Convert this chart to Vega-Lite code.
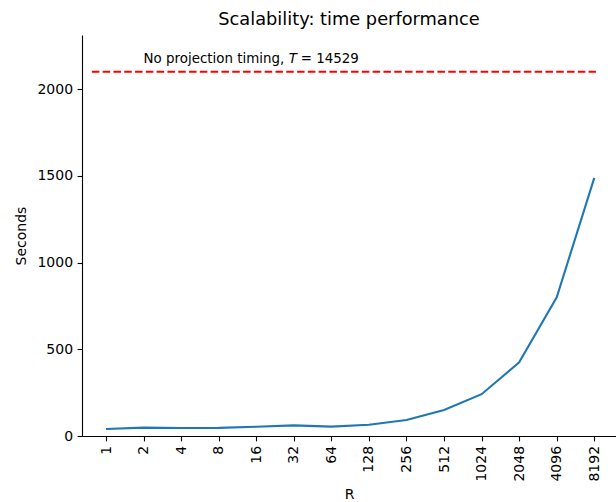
{
  "$schema": "https://vega.github.io/schema/vega-lite/v6.json",
  "autosize": "none",
  "width": 534,
  "height": 401,
  "padding": {"left": 82, "top": 35, "right": 0, "bottom": 66},
  "background": "white",
  "title": {
    "text": "Scalability: time performance",
    "fontSize": 17.8,
    "font": "DejaVu Sans",
    "fontWeight": "normal",
    "color": "black",
    "anchor": "middle",
    "baseline": "bottom",
    "offset": 5,
    "dy": 17
  },
  "config": {
    "view": {"stroke": null},
    "font": "DejaVu Sans",
    "axis": {
      "grid": false,
      "domainColor": "black",
      "domainWidth": 1.1,
      "tickColor": "black",
      "tickWidth": 1.1,
      "tickSize": 4.9,
      "labelFont": "DejaVu Sans",
      "labelFontSize": 14,
      "labelColor": "black",
      "labelPadding": 4.5,
      "titleFont": "DejaVu Sans",
      "titleFontSize": 14,
      "titleFontWeight": "normal",
      "titleColor": "black"
    }
  },
  "datasets": {
    "timing": [
      {"R": 1, "Seconds": 40},
      {"R": 2, "Seconds": 48},
      {"R": 4, "Seconds": 46},
      {"R": 8, "Seconds": 47},
      {"R": 16, "Seconds": 53},
      {"R": 32, "Seconds": 61},
      {"R": 64, "Seconds": 54},
      {"R": 128, "Seconds": 65},
      {"R": 256, "Seconds": 92},
      {"R": 512, "Seconds": 150},
      {"R": 1024, "Seconds": 241},
      {"R": 2048, "Seconds": 425},
      {"R": 4096, "Seconds": 800},
      {"R": 8192, "Seconds": 1488}
    ],
    "reference": [
      {"R_start": 0.77, "R_end": 8450, "Seconds": 2100, "label_R": 2, "label_Seconds": 2175}
    ]
  },
  "layer": [
    {
      "data": {"name": "timing"},
      "mark": {"type": "line", "color": "#1f77b4", "strokeWidth": 2.1},
      "encoding": {
        "x": {
          "field": "R",
          "type": "quantitative",
          "scale": {"type": "log", "base": 2, "domain": [0.642, 12230], "nice": false},
          "axis": {
            "values": [1, 2, 4, 8, 16, 32, 64, 128, 256, 512, 1024, 2048, 4096, 8192],
            "format": "d",
            "labelAngle": -90,
            "title": "R",
            "titlePadding": 6
          }
        },
        "y": {
          "field": "Seconds",
          "type": "quantitative",
          "scale": {"domain": [0, 2312], "nice": false},
          "axis": {
            "values": [0, 500, 1000, 1500, 2000],
            "format": "d",
            "title": "Seconds",
            "titlePadding": 8
          }
        }
      }
    },
    {
      "data": {"name": "reference"},
      "mark": {"type": "rule", "color": "red", "strokeWidth": 2.1, "strokeDash": [7.5, 3.3]},
      "encoding": {
        "x": {"field": "R_start", "type": "quantitative"},
        "x2": {"field": "R_end"},
        "y": {"field": "Seconds", "type": "quantitative"}
      }
    },
    {
      "data": {"name": "reference"},
      "mark": {"type": "text", "align": "left", "baseline": "middle", "fontSize": 13.4, "font": "DejaVu Sans", "color": "black", "text": "No projection timing, "},
      "encoding": {
        "x": {"field": "label_R", "type": "quantitative"},
        "y": {"field": "label_Seconds", "type": "quantitative"}
      }
    },
    {
      "data": {"name": "reference"},
      "mark": {"type": "text", "align": "left", "baseline": "middle", "fontSize": 13.4, "font": "DejaVu Sans", "fontStyle": "italic", "color": "black", "text": "T", "dx": 145.3},
      "encoding": {
        "x": {"field": "label_R", "type": "quantitative"},
        "y": {"field": "label_Seconds", "type": "quantitative"}
      }
    },
    {
      "data": {"name": "reference"},
      "mark": {"type": "text", "align": "left", "baseline": "middle", "fontSize": 13.4, "font": "DejaVu Sans", "color": "black", "text": "= 14529", "dx": 157.2},
      "encoding": {
        "x": {"field": "label_R", "type": "quantitative"},
        "y": {"field": "label_Seconds", "type": "quantitative"}
      }
    },
    {
      "mark": {"type": "rule", "color": "black", "strokeWidth": 1.1},
      "encoding": {
        "y": {"datum": 2312}
      }
    }
  ]
}
